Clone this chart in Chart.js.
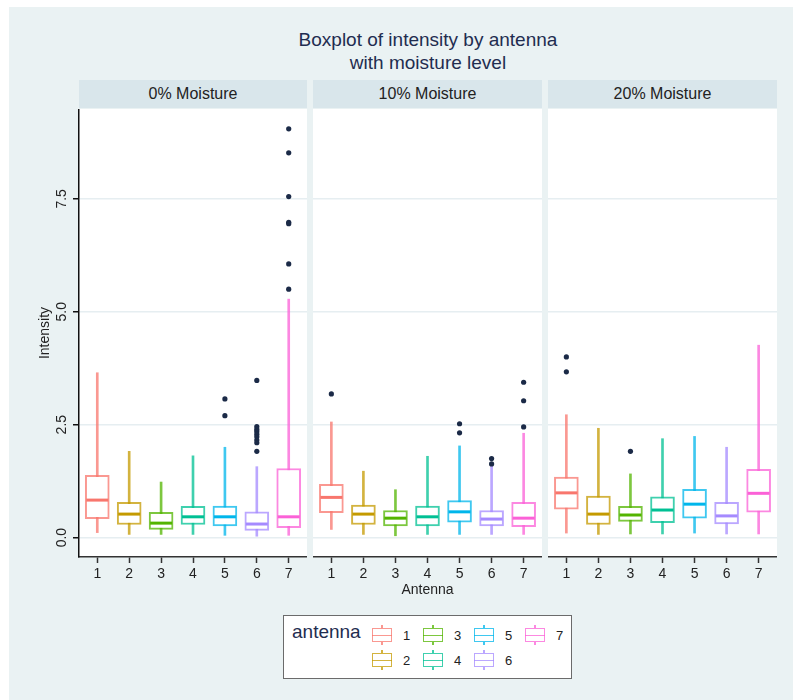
<!DOCTYPE html>
<html>
<head>
<meta charset="utf-8">
<title>Boxplot of intensity by antenna</title>
<script src="https://cdn.jsdelivr.net/npm/chart.js"></script>
<style>
  body { margin: 0; background: #fff; font-family: "Liberation Sans", Arial, sans-serif; }
  #backdrop { position: absolute; left: 9px; top: 7px; width: 784px; height: 693px; background: #eaf2f3; }
  .title { position: absolute; left: 79px; width: 698px; text-align: center; color: #1f2d50; font-size: 19px; line-height: 22px; }
  .strip { position: absolute; top: 80px; height: 28px; line-height: 28px; background: #d9e6eb; text-align: center; font-size: 16px; color: #222; }
  canvas { position: absolute; top: 109px; }
  #legend { position: absolute; left: 283px; top: 615px; width: 289px; height: 64px; box-sizing: border-box;
            border: 1.5px solid #6b6b6b; background: #fff; }
  #legend .legend-title { position: absolute; left: 8px; top: 4px; font-size: 19px; line-height: 24px; color: #1f2d50; }
  .legend-item { position: absolute; width: 48px; height: 20px; }
  .glyph { position: absolute; left: 0; top: 0; width: 20px; height: 20px; }
  .glyph::before { content: ''; position: absolute; left: 9px; top: 0; width: 1.5px; height: 20px; background: var(--c); }
  .glyph i { position: absolute; left: 0; top: 3px; width: 20px; height: 14px; box-sizing: border-box;
             border: 1.5px solid var(--c); background: #fff; }
  .glyph b { position: absolute; left: 0; top: 9.5px; width: 20px; height: 1.5px; background: var(--c); }
  .legend-item .lbl { position: absolute; left: 31px; top: 1px; font-size: 13px; line-height: 20px; color: #222; }
</style>
</head>
<body>
<div id="backdrop"></div>
<div class="title" style="top:29px">Boxplot of intensity by antenna</div>
<div class="title" style="top:52px">with moisture level</div>
<div class="strip" style="left:79px;width:228px">0% Moisture</div>
<div class="strip" style="left:313px;width:229px">10% Moisture</div>
<div class="strip" style="left:548px;width:229px">20% Moisture</div>
<canvas id="panel0" width="287" height="500" style="left:20px"></canvas>
<canvas id="panel1" width="229" height="500" style="left:313px"></canvas>
<canvas id="panel2" width="229" height="500" style="left:548px"></canvas>
<div id="legend"><span class="legend-title">antenna</span></div>

<script>
// antennas and moisture levels
const antennas = [1, 2, 3, 4, 5, 6, 7];
const moistureLevels = ['0% Moisture', '10% Moisture', '20% Moisture'];
const yTickValues = [0, 2.5, 5, 7.5];

// box summaries: one row per moisture level, one entry per antenna
const whiskerLow = [
  [0.11, 0.07, 0.07, 0.07, 0.05, 0.03, 0.05],
  [0.18, 0.07, 0.04, 0.07, 0.07, 0.07, 0.07],
  [0.10, 0.07, 0.08, 0.08, 0.10, 0.08, 0.08]
];
const q1 = [
  [0.42, 0.29, 0.18, 0.29, 0.26, 0.16, 0.22],
  [0.55, 0.29, 0.26, 0.26, 0.34, 0.26, 0.24],
  [0.63, 0.29, 0.36, 0.33, 0.43, 0.30, 0.56]
];
const median = [
  [0.83, 0.52, 0.32, 0.46, 0.46, 0.30, 0.46],
  [0.89, 0.52, 0.43, 0.46, 0.57, 0.41, 0.43],
  [0.99, 0.52, 0.50, 0.61, 0.74, 0.48, 0.98]
];
const q3 = [
  [1.38, 0.78, 0.56, 0.69, 0.70, 0.57, 1.53],
  [1.18, 0.72, 0.60, 0.70, 0.82, 0.60, 0.78],
  [1.34, 0.92, 0.69, 0.90, 1.07, 0.78, 1.51]
];
const whiskerHigh = [
  [3.65, 1.91, 1.23, 1.81, 2.00, 1.57, 5.28],
  [2.56, 1.47, 1.06, 1.80, 2.03, 1.60, 2.31],
  [2.72, 2.42, 1.41, 2.19, 2.24, 2.00, 4.26]
];
// outside values as [antenna, intensity]
const outliers = [
  [[5, 3.07], [5, 2.70],
   [6, 3.48], [6, 2.46], [6, 2.40], [6, 2.35], [6, 2.29], [6, 2.23], [6, 2.16], [6, 2.10], [6, 1.91],
   [7, 9.05], [7, 8.52], [7, 7.55], [7, 6.98], [7, 6.95], [7, 6.06], [7, 5.50]],
  [[1, 3.18], [5, 2.52], [5, 2.32], [6, 1.75], [6, 1.63], [7, 3.44], [7, 3.03], [7, 2.45]],
  [[1, 4.00], [1, 3.67], [3, 1.91]]
];

const colors = ['#F8766D', '#C49A00', '#53B400', '#00C094', '#00B6EB', '#A58AFF', '#FB61D7'];
const fadedColors = colors.map(c => c + 'C0');
const gridColor = '#e6eef1';

// white plot region behind everything
const plotBackground = {
  id: 'plotBackground',
  beforeDraw(chart) {
    const { ctx, chartArea: a } = chart;
    ctx.save();
    ctx.fillStyle = '#fff';
    ctx.fillRect(a.left, a.top, a.right - a.left, a.bottom - a.top);
    ctx.restore();
  }
};

// median bar across each box
const medianLines = {
  id: 'medianLines',
  afterDatasetsDraw(chart, args, opts) {
    const meta = chart.getDatasetMeta(1);
    const yScale = chart.scales.y;
    const ctx = chart.ctx;
    ctx.save();
    ctx.lineWidth = 3;
    meta.data.forEach((bar, i) => {
      const py = yScale.getPixelForValue(opts.values[i]);
      ctx.strokeStyle = colors[i];
      ctx.beginPath();
      ctx.moveTo(bar.x - bar.width / 2 + 1, py);
      ctx.lineTo(bar.x + bar.width / 2 - 1, py);
      ctx.stroke();
    });
    ctx.restore();
  }
};

// stata style vertical tick labels on the left axis
const verticalTickLabels = {
  id: 'verticalTickLabels',
  afterDraw(chart, args, opts) {
    if (!opts.show) return;
    const yScale = chart.scales.y;
    const ctx = chart.ctx;
    ctx.save();
    ctx.fillStyle = '#222';
    ctx.font = '14px "Liberation Sans", Arial, sans-serif';
    ctx.textAlign = 'center';
    ctx.textBaseline = 'middle';
    yScale.ticks.forEach(t => {
      ctx.save();
      ctx.translate(yScale.right - 17, yScale.getPixelForValue(t.value));
      ctx.rotate(-Math.PI / 2);
      ctx.fillText(t.value.toFixed(1), 0, 0);
      ctx.restore();
    });
    ctx.restore();
  }
};

function buildPanel(p) {
  const isFirst = p === 0;
  const ctx = document.getElementById('panel' + p).getContext('2d');

  const whiskerData = antennas.map((a, i) => ({ x: a, y: [whiskerLow[p][i], whiskerHigh[p][i]] }));
  const boxData = antennas.map((a, i) => ({ x: a, y: [q1[p][i], q3[p][i]] }));
  const outlierData = outliers[p].map(([a, v]) => ({ x: a, y: v }));

  return new Chart(ctx, {
    type: 'bar',
    data: {
      datasets: [
        {
          label: 'whiskers',
          data: whiskerData,
          backgroundColor: fadedColors,
          borderWidth: 0,
          barThickness: 2,
          grouped: false,
          order: 3
        },
        {
          label: moistureLevels[p],
          data: boxData,
          backgroundColor: '#fff',
          borderColor: fadedColors,
          borderWidth: 2,
          borderSkipped: false,
          barThickness: 24,
          grouped: false,
          order: 2
        },
        {
          type: 'scatter',
          label: 'outside values',
          data: outlierData,
          pointRadius: 2.6,
          pointBackgroundColor: '#1b2a47',
          pointBorderWidth: 0,
          order: 1
        }
      ]
    },
    options: {
      responsive: false,
      animation: false,
      devicePixelRatio: 1,
      layout: { padding: 0, autoPadding: false },
      scales: {
        x: {
          type: 'linear',
          offset: false,
          min: 0.427,
          max: 7.573,
          afterBuildTicks: scale => { scale.ticks = antennas.map(v => ({ value: v })); },
          afterFit: scale => { scale.height = 52; scale.paddingLeft = 0; scale.paddingRight = 0; },
          ticks: {
            autoSkip: false,
            maxRotation: 0,
            padding: 3,
            color: '#222',
            font: { size: 14, family: '"Liberation Sans", Arial, sans-serif' },
            callback: v => String(v)
          },
          grid: { offset: false, drawOnChartArea: false, tickLength: 6, tickColor: '#333', tickWidth: 1.5 },
          border: { color: '#333', width: 1.5 },
          title: {
            display: p === 1,
            text: 'Antenna',
            color: '#222',
            font: { size: 14, family: '"Liberation Sans", Arial, sans-serif' },
            padding: { top: 0, bottom: 10 }
          }
        },
        y: {
          type: 'linear',
          min: -0.43,
          max: 9.49,
          afterBuildTicks: scale => { scale.ticks = yTickValues.map(v => ({ value: v })); },
          afterFit: scale => { scale.width = isFirst ? 59 : 0; scale.paddingTop = 0; scale.paddingBottom = 0; },
          ticks: { display: false },
          grid: {
            color: gridColor,
            lineWidth: 1.5,
            drawTicks: isFirst,
            tickLength: 6,
            tickColor: '#111',
            tickWidth: 1.5
          },
          border: { display: isFirst, color: '#111', width: 1.5 },
          title: {
            display: isFirst,
            text: 'Intensity',
            color: '#222',
            font: { size: 14, family: '"Liberation Sans", Arial, sans-serif' },
            padding: { top: 17, bottom: 0 }
          }
        }
      },
      plugins: {
        legend: { display: false },
        tooltip: { enabled: false },
        medianLines: { values: median[p] },
        verticalTickLabels: { show: isFirst }
      }
    },
    plugins: [plotBackground, medianLines, verticalTickLabels]
  });
}

moistureLevels.forEach((_, p) => buildPanel(p));

// legend, filled column by column like the stata key
const legendBox = document.getElementById('legend');
antennas.forEach((a, i) => {
  const col = Math.floor(i / 2);
  const row = i % 2;
  const item = document.createElement('div');
  item.className = 'legend-item';
  item.style.left = (88 + col * 51) + 'px';
  item.style.top = (9 + row * 25) + 'px';
  item.innerHTML = `<span class="glyph" style="--c:${fadedColors[i]}"><i></i><b></b></span><span class="lbl">${a}</span>`;
  legendBox.appendChild(item);
});
</script>
</body>
</html>
